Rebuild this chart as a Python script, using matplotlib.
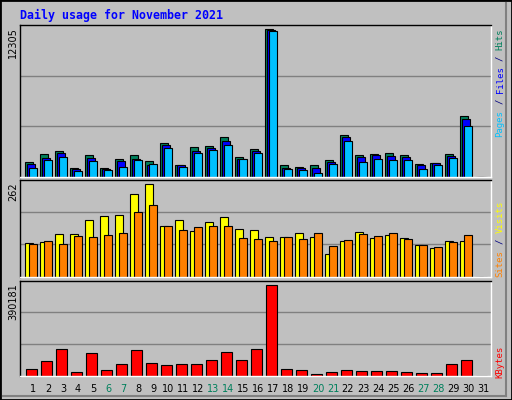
import matplotlib
matplotlib.use("Agg")
import matplotlib.pyplot as plt
from matplotlib.patches import Rectangle
from matplotlib.lines import Line2D

days = list(range(1, 32))
hits = [1222, 1949, 2144, 780, 1810, 780, 1531, 1810, 1364, 2868, 1030, 2478, 2617, 3313, 1698, 2366,
        12305, 1030, 863, 974, 1448, 3452, 1865, 1949, 2032, 1865, 1114, 1197, 1949, 5039, 0]
files = [1086, 1615, 2004, 696, 1615, 640, 1364, 1531, 974, 2673, 974, 2199, 2450, 3034, 1531, 2144,
         12222, 780, 780, 780, 1281, 3285, 1698, 1865, 1782, 1698, 1030, 1169, 1782, 4789, 0]
pages = [780, 1448, 1698, 529, 1364, 612, 863, 1448, 1114, 2450, 863, 2032, 2283, 2701, 1531, 2032,
         12139, 696, 612, 362, 1114, 3034, 1281, 1531, 1448, 1448, 696, 1030, 1615, 4204, 0]
visits = [94, 97, 120, 120, 159, 171, 174, 233, 262, 142, 159, 128, 154, 168, 134, 131,
          111, 111, 122, 111, 65, 100, 125, 108, 117, 108, 88, 80, 100, 100, 0]
sites = [91, 100, 91, 114, 111, 117, 122, 182, 202, 142, 131, 140, 142, 142, 108, 105,
         100, 111, 105, 122, 85, 102, 120, 114, 122, 105, 88, 83, 97, 117, 0]
kbytes = [31329, 65512, 116775, 18514, 99688, 27058, 52693, 112503, 56964, 48420, 52693, 52693,
          69783, 103959, 69783, 116775, 390181, 31329, 27058, 9969, 18514, 27058, 22786, 22786,
          22786, 18514, 14241, 14241, 52693, 69783, 0]
weekend = {6, 7, 13, 14, 20, 21, 27, 28}

C_HITS, C_FILES, C_PAGES = "#00805C", "#0000FF", "#00C0FF"
C_VIS, C_SITES, C_KB = "#FFFF00", "#FF8000", "#FF0000"
BG = "#C0C0C0"

W, H = 512, 400
fig = plt.figure(figsize=(W / 100, H / 100), dpi=100, facecolor=BG)

def add_ax(top, bottom):
    ax = fig.add_axes([20 / W, 1 - bottom / H, 471 / W, (bottom - top) / H])
    ax.set_facecolor(BG)
    ax.set_xlim(0, 471 / 15)
    ax.set_xticks([]); ax.set_yticks([])
    for s in ("left", "top"):
        ax.spines[s].set_color("black")
    for s in ("right", "bottom"):
        ax.spines[s].set_color("white")
    for s in ax.spines.values():
        s.set_linewidth(1)
    return ax

px = 1 / 15.0
ax1 = add_ax(25, 177)
top1 = 12305 * 152 / 148
ax1.set_ylim(0, top1)
ax2 = add_ax(180, 276.5)
top2 = 262 * 96 / 92
ax2.set_ylim(0, top2)
ax3 = add_ax(280.5, 376)
top3 = 390181 * 95.4 / 91.4
ax3.set_ylim(0, top3)
for ax, t in ((ax1, top1), (ax2, top2), (ax3, top3)):
    for f in (1 / 3, 2 / 3):
        ax.axhline(t * f, color="#808080", lw=1, zorder=0)

xs = [d - 1 for d in days]
kw = dict(align="edge", edgecolor="black", linewidth=0.8, zorder=2)
ax1.bar([x + 5 * px for x in xs], hits, 8 * px, color=C_HITS, **kw)
ax1.bar([x + 7 * px for x in xs], files, 8 * px, color=C_FILES, **kw)
ax1.bar([x + 9 * px for x in xs], pages, 8 * px, color=C_PAGES, **kw)
ax2.bar([x + 5 * px for x in xs], visits, 8 * px, color=C_VIS, **kw)
ax2.bar([x + 9 * px for x in xs], sites, 8 * px, color=C_SITES, **kw)
ax3.bar([x + 6 * px for x in xs], kbytes, 11 * px, color=C_KB, **kw)

# day labels
for d in days:
    fig.text((20 + (d - 1) * 15 + 13) / W, 1 - 389 / H, str(d), ha="center", va="center",
             fontsize=7, family="DejaVu Sans", color="#00805C" if d in weekend else "black")

mono = "DejaVu Sans Mono"
fig.text(20 / W, 1 - 15 / H, "Daily usage for November 2021", ha="left", va="center",
         fontsize=8.4, family=mono, weight="bold", color="#0000FF")

for txt, ytop in (("12305", 27), ("262", 182), ("390181", 283)):
    fig.text(13 / W, 1 - ytop / H, txt, rotation=90, ha="center", va="top", fontsize=7,
             family="DejaVu Sans", color="black")

cw = 5.45
def side(pieces, ybot):
    for txt, off, col in pieces:
        fig.text(500 / W, 1 - (ybot - off * cw) / H, txt, rotation=90, ha="center", va="bottom",
                 fontsize=6.5, family=mono, color=col)

side([("Pages", 0, C_PAGES), ("/", 6, "#000080"), ("Files", 8, C_FILES), ("/", 14, "#000080"),
      ("Hits", 16, C_HITS)], 137)
side([("Sites", 0, C_SITES), ("/", 6, "#000080"), ("Visits", 8, C_VIS)], 277)
side([("KBytes", 0, C_KB)], 378)

# frame
fig.add_artist(Line2D([505.5 / W, 505.5 / W], [1 - 3 / H, 1 - 395.5 / H], color="#808080", lw=1.5))
fig.add_artist(Line2D([3 / W, 505.5 / W], [1 - 395.5 / H, 1 - 395.5 / H], color="#808080", lw=1.5))
fig.add_artist(Rectangle((0, 0), 1, 1, transform=fig.transFigure, fill=False, edgecolor="black", lw=2))

fig.savefig("out.png", dpi=100, facecolor=BG)
